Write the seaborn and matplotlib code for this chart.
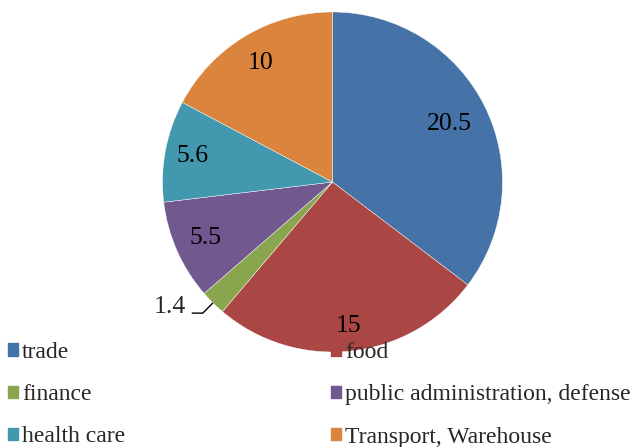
import matplotlib
matplotlib.use('Agg')
import matplotlib.pyplot as plt
import matplotlib.patches as mpatches
import numpy as np
import seaborn as sns

sectors = ['trade', 'food', 'finance', 'public administration, defense',
           'health care', 'Transport, Warehouse']
values = [20.5, 15, 1.4, 5.5, 5.6, 10]
colors = ['#4572A7', '#AA4643', '#89A54E', '#71588F', '#4198AF', '#DB843D']

sns.set_theme(style='white')
plt.rcParams['font.family'] = ['Liberation Serif', 'DejaVu Serif']

fig = plt.figure(figsize=(6.33, 4.47), dpi=100)
W, H = 633, 447
cx, cy, r = 332.5, 182, 170
ax = fig.add_axes([(cx - r) / W, (H - cy - r) / H, 2 * r / W, 2 * r / H])

total = sum(values)
wedges, _, autotexts = ax.pie(
    values, colors=colors, startangle=90, counterclock=False,
    autopct=lambda p: f'{round(p * total / 100, 1):g}', pctdistance=0.82,
    wedgeprops=dict(edgecolor='white', linewidth=0.3),
    textprops=dict(fontsize=18.5, color='black'),
)
ax.set_xlim(-1, 1)
ax.set_ylim(-1, 1)
ax.set_aspect('equal')

# per-slice label distance (Excel "best fit" placement)
dists = [0.77, 0.85, None, 0.82, 0.84, 0.82]
for w, t, d in zip(wedges, autotexts, dists):
    if d is None:
        t.set_visible(False)
        continue
    ang = np.deg2rad((w.theta1 + w.theta2) / 2)
    t.set_position((d * np.cos(ang), d * np.sin(ang)))

# small slice label outside with leader line
w = wedges[2]
ang = np.deg2rad((w.theta1 + w.theta2) / 2)
edge = np.array([np.cos(ang), np.sin(ang)])
elbow = edge * 1.085
end = elbow - np.array([0.065, 0])
ax.plot([edge[0], elbow[0], end[0]], [edge[1], elbow[1], end[1]],
        color='black', lw=1, solid_capstyle='butt', clip_on=False)
ax.text(end[0] - 0.035, end[1] + 0.035, f'{values[2]:g}', fontsize=18.5,
        ha='right', va='center')

handles = [mpatches.Patch(color=c, label=s) for s, c in zip(sectors, colors)]
order = [0, 2, 4, 1, 3, 5]
fig.legend([handles[i] for i in order], [sectors[i] for i in order],
           ncol=2, mode='expand', loc='upper left',
           bbox_to_anchor=(8 / W, 0.0, 623 / W, (H - 342) / H),
           frameon=False, fontsize=17, borderpad=0, borderaxespad=0,
           handlelength=0.42, handleheight=0.42, handletextpad=0.17,
           labelspacing=0.9, columnspacing=0.5)

fig.savefig('out.png', dpi=100)
